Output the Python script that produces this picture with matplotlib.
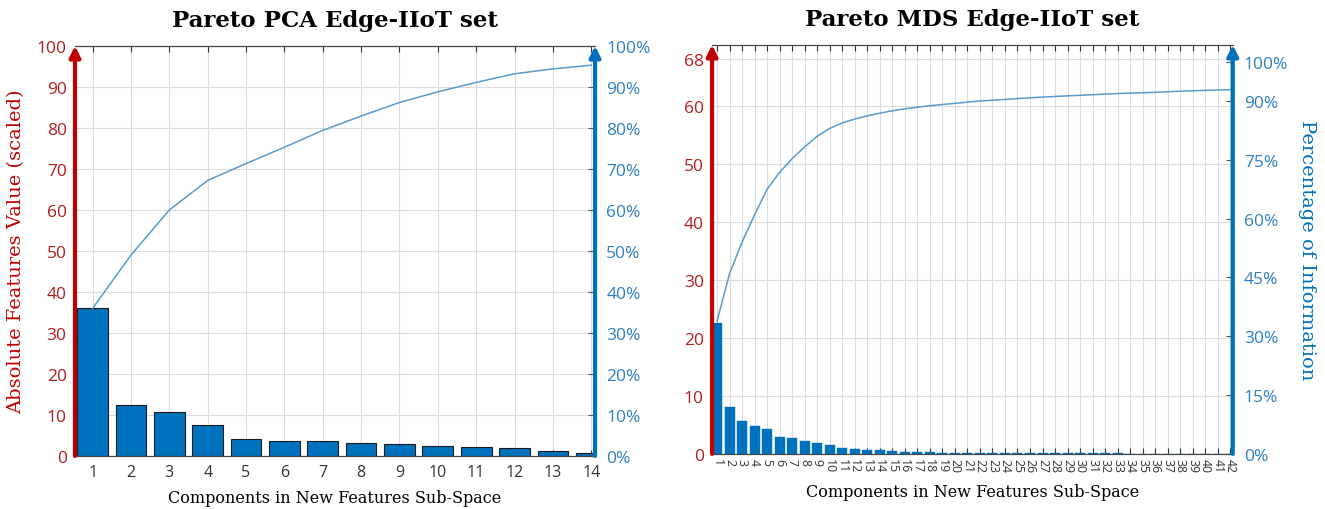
import matplotlib
matplotlib.use("Agg")
import matplotlib.pyplot as plt

# ---- data ----
pca_comp = list(range(1, 15))
pca_vals = [36.2, 12.5, 10.8, 7.5, 4.2, 3.7, 3.7, 3.2, 2.9, 2.5, 2.3, 2.0, 1.2, 0.7]
pca_cum = [36.0, 49.0, 60.0, 67.2, 71.3, 75.3, 79.4, 82.9, 86.2, 88.8, 91.1, 93.2, 94.4, 95.3]

mds_comp = list(range(1, 43))
mds_vals = [22.6, 8.1, 5.6, 4.8, 4.3, 3.0, 2.8, 2.3, 1.9, 1.5, 1.1, 0.85, 0.7, 0.6,
            0.45, 0.35, 0.3, 0.25, 0.22, 0.2, 0.18, 0.16, 0.15, 0.14, 0.13, 0.12,
            0.11, 0.1, 0.1, 0.09, 0.09, 0.08, 0.08, 0.07, 0.07, 0.06, 0.06, 0.05,
            0.05, 0.05, 0.04, 0.04]
mds_cum = [33.9, 46.0, 54.0, 61.0, 67.5, 71.8, 75.3, 78.3, 81.0, 83.0, 84.4, 85.4,
           86.2, 86.9, 87.5, 88.0, 88.4, 88.8, 89.1, 89.4, 89.7, 90.0, 90.2, 90.4,
           90.6, 90.8, 91.0, 91.15, 91.3, 91.45, 91.6, 91.75, 91.9, 92.0, 92.1,
           92.2, 92.35, 92.5, 92.6, 92.7, 92.8, 92.9]

pca_left_ticks = list(range(0, 101, 10))
pca_right_ticks = list(range(0, 101, 10))
mds_left_ticks = [0, 10, 20, 30, 40, 50, 60, 68]
mds_right_ticks = [0, 15, 30, 45, 60, 75, 90, 100]

RED = "#C00000"
RED_TXT = "#B01E1E"
BLUE = "#0072BD"
BLUE_TXT = "#2F7FC1"
LINE = "#5A9BCB"
SERIF = "DejaVu Serif"
SANS = "Open Sans"


def style(ax, ax2, xlim, ylim, ylim2):
    ax.set_xlim(*xlim)
    ax.set_ylim(*ylim)
    ax2.set_ylim(*ylim2)
    ax.grid(True, color="#dcdcdc", linewidth=0.8)
    ax.set_axisbelow(True)
    ax.tick_params(axis="x", direction="in", top=True, length=4, color="#333333",
                   labelcolor="#333333", pad=6)
    ax.tick_params(axis="y", direction="in", length=0, labelcolor=RED_TXT, pad=6)
    ax2.tick_params(axis="y", direction="in", length=5, color="#555555",
                    labelcolor=BLUE_TXT, pad=8)
    for a in (ax, ax2):
        a.spines["left"].set_visible(False)
        a.spines["right"].set_visible(False)
        a.spines["top"].set_color("#444444")
        a.spines["bottom"].set_color("#444444")
    for x, c in ((0, RED), (1, BLUE)):
        ax2.annotate("", xy=(x, 1.0), xytext=(x, 0), xycoords="axes fraction",
                     arrowprops=dict(arrowstyle="-|>", color=c, lw=3,
                                     mutation_scale=16, shrinkA=0, shrinkB=0),
                     annotation_clip=False)
    for lab in ax.get_yticklabels() + ax2.get_yticklabels():
        lab.set_fontfamily(SANS)
        lab.set_fontsize(12.5)


fig = plt.figure(figsize=(13.25, 5.1), dpi=100)

# ---- left: PCA ----
ax = fig.add_axes([0.0566, 0.104, 0.3925, 0.804])
ax2 = ax.twinx()
ax.bar(pca_comp, pca_vals, width=0.8, color=BLUE, edgecolor="#1a1a1a", linewidth=0.8)
ax2.plot(pca_comp, pca_cum, color=LINE, lw=1.1)
ax.set_xticks(pca_comp)
ax.set_xticklabels([str(c) for c in pca_comp], fontfamily=SANS, fontsize=11.5)
ax.set_yticks(pca_left_ticks)
ax2.set_yticks(pca_right_ticks)
ax2.set_yticklabels([f"{v}%" for v in pca_right_ticks])
style(ax, ax2, (0.54, 14.1), (0, 100), (0, 100))
ax.set_title("Pareto PCA Edge-IIoT set", fontfamily=SERIF, fontweight="bold",
             fontsize=16.5, pad=14)
ax.set_xlabel("Components in New Features Sub-Space", fontfamily=SERIF,
              fontsize=11.5, labelpad=6)
ax.set_ylabel("Absolute Features Value (scaled)", fontfamily=SERIF, fontsize=14,
              color=RED, labelpad=8)

# ---- right: MDS ----
bx = fig.add_axes([0.5374, 0.108, 0.393, 0.802])
bx2 = bx.twinx()
bx.bar(mds_comp, mds_vals, width=0.8, color=BLUE, edgecolor=BLUE, linewidth=0.3)
bx2.plot(mds_comp, mds_cum, color=LINE, lw=1.1)
bx.set_xticks(mds_comp)
bx.set_xticklabels([str(c) for c in mds_comp], fontfamily=SANS, fontsize=8.8,
                   rotation=-90, linespacing=1.0)
bx.set_yticks(mds_left_ticks)
bx2.set_yticks(mds_right_ticks)
bx2.set_yticklabels([f"{v}%" for v in mds_right_ticks])
style(bx, bx2, (0.6, 42.2), (0, 70.5), (0, 104.3))
bx.tick_params(axis="x", pad=3)
bx.set_title("Pareto MDS Edge-IIoT set", fontfamily=SERIF, fontweight="bold",
             fontsize=16.5, pad=14)
bx.set_xlabel("Components in New Features Sub-Space", fontfamily=SERIF,
              fontsize=11.5, labelpad=8)
bx2.set_ylabel("Percentage of Information", fontfamily=SERIF, fontsize=14,
               color=BLUE, rotation=-90, labelpad=20)

fig.savefig("out.png", dpi=100)
